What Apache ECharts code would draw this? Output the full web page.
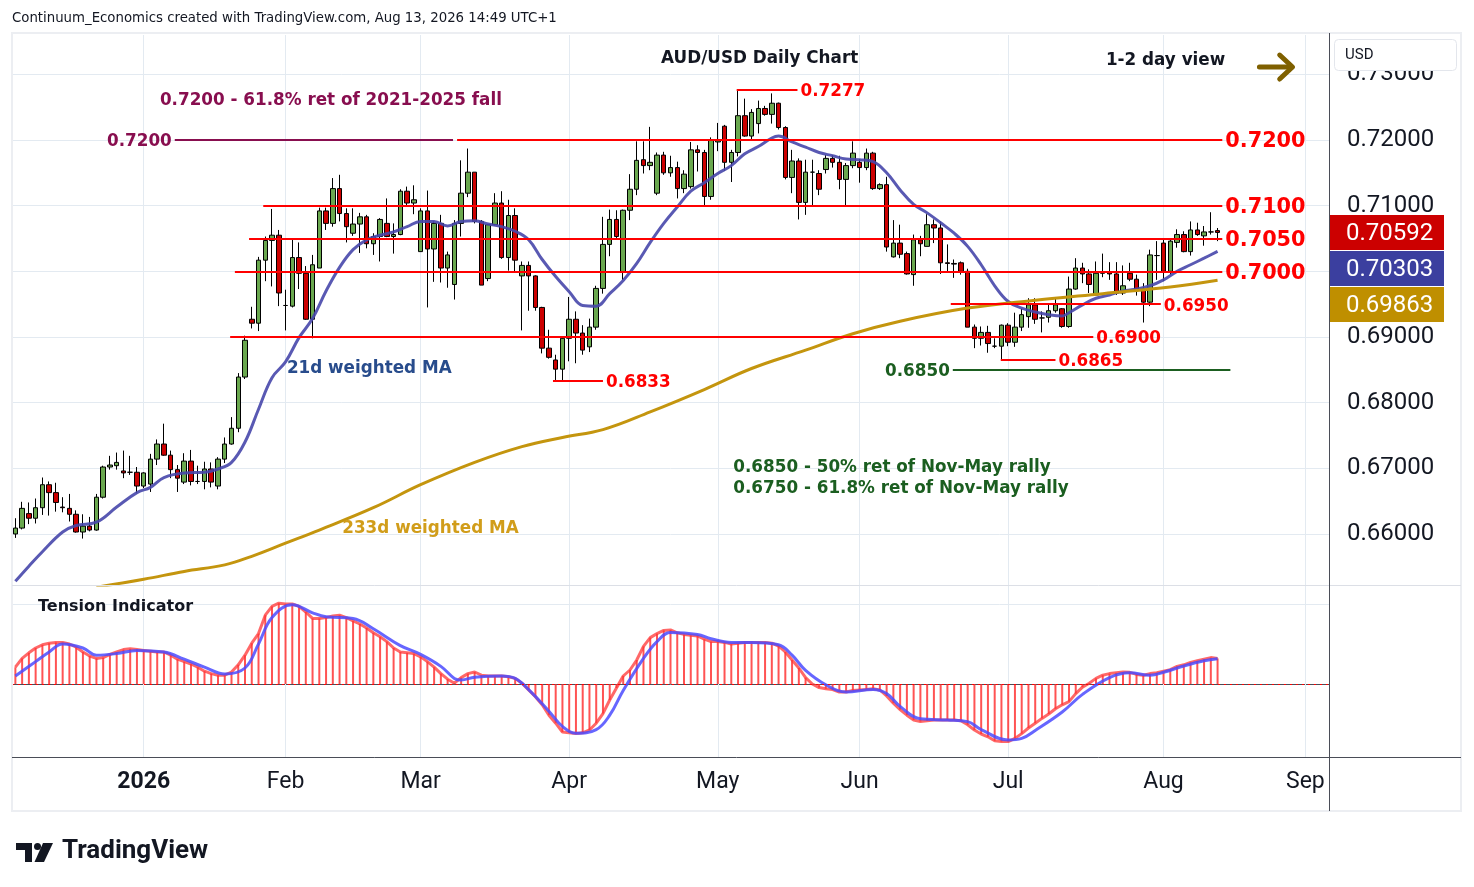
<!DOCTYPE html>
<html>
<head>
<meta charset="utf-8">
<title>AUD/USD Daily Chart</title>
<script src="https://cdn.jsdelivr.net/npm/echarts@6.0.0/dist/echarts.min.js"></script>
<style>
	html, body { margin: 0; padding: 0; background: #ffffff; }
	#chart { width: 1474px; height: 887px; }
</style>
</head>
<body>
<div id="chart"></div>
<script>
// ---- data -------------------------------------------------------------
// daily bars on weekdays from 4 Dec 2025, christmas and new year have no bar
var firstDay = "2025-12-04";
var holidays = ["2025-12-25", "2026-01-01"];
var barCount = 195; // the axis runs on into early September, past the last bar
var monthNames = ["Jan", "Feb", "Mar", "Apr", "May", "Jun", "Jul", "Aug", "Sep", "Oct", "Nov", "Dec"];
var priceTicks = [0.66, 0.67, 0.68, 0.69, 0.70, 0.71, 0.72, 0.73];

var opens = [
	0.6600,0.6609,0.6631,0.6624,0.6640,0.6675,0.6663,0.6641,0.6639,0.6630,
	0.6603,0.6612,0.6606,0.6656,0.6702,0.6704,0.6696,0.6694,0.6694,0.6673,
	0.6676,0.6714,0.6737,0.6720,0.6698,0.6679,0.6711,0.6680,0.6680,0.6699,
	0.6673,0.6714,0.6737,0.6761,0.6839,0.6927,0.6921,0.7017,0.7047,0.7055,
	0.6948,0.6947,0.7021,0.6997,0.6927,0.7005,0.7092,0.7073,0.7126,0.7088,
	0.7058,0.7072,0.7083,0.7042,0.7053,0.7073,0.7053,0.7056,0.7122,0.7104,
	0.7030,0.7092,0.7034,0.7073,0.7005,0.6980,0.7073,0.7119,0.7151,0.7076,
	0.6989,0.7071,0.7104,0.7021,0.7085,0.6993,0.7009,0.6993,0.6945,0.6883,
	0.6865,0.6851,0.6898,0.6927,0.6906,0.6885,0.6915,0.6974,0.7041,0.7079,
	0.6999,0.7093,0.7125,0.7170,0.7161,0.7119,0.7177,0.7150,0.7158,0.7126,
	0.7129,0.7185,0.7181,0.7114,0.7197,0.7221,0.7166,0.7181,0.7237,0.7206,
	0.7225,0.7248,0.7239,0.7256,0.7219,0.7143,0.7168,0.7105,0.7151,0.7149,
	0.7155,0.7172,0.7166,0.7140,0.7161,0.7166,0.7158,0.7180,0.7126,0.7132,
	0.7022,0.7043,0.7027,0.6995,0.7048,0.7038,0.7071,0.7066,0.7013,0.7012,
	0.7013,0.7000,0.6915,0.6898,0.6907,0.6886,0.6886,0.6918,0.6892,0.6915,
	0.6931,0.6949,0.6929,0.6930,0.6940,0.6943,0.6916,0.6973,0.7005,0.6996,
	0.6964,0.6997,0.6998,0.6996,0.6967,0.6997,0.6988,0.6973,0.6953,0.7024,
	0.7043,0.7000,0.7044,0.7056,0.7030,0.7063,0.7054,0.7060,0.7062
];
var highs = [
	0.6624,0.6649,0.6648,0.6654,0.6686,0.6680,0.6678,0.6656,0.6661,0.6636,
	0.6630,0.6626,0.6661,0.6704,0.6719,0.6724,0.6727,0.6719,0.6702,0.6694,
	0.6722,0.6744,0.6768,0.6727,0.6705,0.6723,0.6728,0.6704,0.6710,0.6709,
	0.6717,0.6747,0.6778,0.6845,0.6902,0.6946,0.7022,0.7053,0.7095,0.7063,
	0.6972,0.7049,0.7044,0.7008,0.7025,0.7097,0.7097,0.7142,0.7147,0.7096,
	0.7096,0.7089,0.7086,0.7058,0.7081,0.7111,0.7073,0.7125,0.7129,0.7131,
	0.7096,0.7123,0.7076,0.7086,0.7030,0.7078,0.7169,0.7187,0.7151,0.7078,
	0.7072,0.7119,0.7122,0.7109,0.7096,0.7015,0.7015,0.6994,0.6946,0.6911,
	0.6873,0.6900,0.6961,0.6939,0.6918,0.6928,0.6978,0.7083,0.7094,0.7093,
	0.7094,0.7148,0.7198,0.7198,0.7220,0.7181,0.7182,0.7176,0.7167,0.7154,
	0.7197,0.7192,0.7185,0.7204,0.7226,0.7223,0.7185,0.7277,0.7263,0.7247,
	0.7260,0.7252,0.7271,0.7257,0.7221,0.7185,0.7172,0.7170,0.7170,0.7154,
	0.7177,0.7177,0.7176,0.7165,0.7198,0.7171,0.7187,0.7182,0.7134,0.7144,
	0.7078,0.7071,0.7030,0.7056,0.7054,0.7087,0.7079,0.7076,0.7041,0.7018,
	0.7015,0.7004,0.6919,0.6916,0.6917,0.6898,0.6919,0.6921,0.6937,0.6943,
	0.6959,0.6959,0.6939,0.6949,0.6959,0.6944,0.6992,0.7020,0.7013,0.7003,
	0.7015,0.7027,0.7014,0.7014,0.7009,0.7013,0.6995,0.6982,0.7033,0.7046,
	0.7048,0.7048,0.7064,0.7061,0.7076,0.7074,0.7069,0.7090,0.7066
];
var lows = [
	0.6594,0.6607,0.6615,0.6616,0.6629,0.6628,0.6634,0.6633,0.6619,0.6602,
	0.6593,0.6604,0.6605,0.6654,0.6698,0.6698,0.6685,0.6690,0.6662,0.6670,
	0.6664,0.6705,0.6719,0.6685,0.6664,0.6676,0.6674,0.6676,0.6668,0.6671,
	0.6668,0.6708,0.6736,0.6755,0.6836,0.6913,0.6909,0.6985,0.6977,0.6947,
	0.6910,0.6945,0.6973,0.6926,0.6898,0.7005,0.7063,0.7068,0.7076,0.7044,
	0.7054,0.7028,0.7035,0.7025,0.7015,0.7052,0.7027,0.7055,0.7100,0.7087,
	0.7030,0.6945,0.6984,0.6983,0.6975,0.6957,0.7053,0.7113,0.7073,0.6979,
	0.6985,0.7070,0.7019,0.7001,0.6999,0.6910,0.6940,0.6940,0.6875,0.6867,
	0.6833,0.6833,0.6863,0.6860,0.6873,0.6877,0.6911,0.6966,0.7023,0.7050,
	0.6987,0.7078,0.7116,0.7149,0.7154,0.7116,0.7147,0.7144,0.7111,0.7119,
	0.7126,0.7152,0.7101,0.7109,0.7183,0.7153,0.7136,0.7175,0.7205,0.7201,
	0.7210,0.7237,0.7225,0.7216,0.7140,0.7119,0.7079,0.7086,0.7101,0.7116,
	0.7149,0.7158,0.7125,0.7101,0.7157,0.7135,0.7154,0.7124,0.7124,0.7030,
	0.7021,0.7020,0.6995,0.6978,0.7023,0.7038,0.7043,0.6996,0.7000,0.6990,
	0.6995,0.6915,0.6883,0.6887,0.6876,0.6883,0.6865,0.6886,0.6885,0.6909,
	0.6914,0.6920,0.6907,0.6922,0.6937,0.6914,0.6914,0.6972,0.6982,0.6967,
	0.6964,0.6991,0.6987,0.6964,0.6964,0.6985,0.6963,0.6922,0.6947,0.6987,
	0.6985,0.6995,0.7036,0.7029,0.7024,0.7054,0.7039,0.7056,0.7046
];
var closes = [
	0.6609,0.6639,0.6624,0.6640,0.6675,0.6663,0.6648,0.6640,0.6630,0.6603,
	0.6612,0.6606,0.6656,0.6702,0.6705,0.6709,0.6693,0.6694,0.6673,0.6693,
	0.6714,0.6737,0.6720,0.6698,0.6685,0.6711,0.6680,0.6680,0.6699,0.6679,
	0.6714,0.6737,0.6761,0.6839,0.6895,0.6921,0.7017,0.7047,0.7055,0.6967,
	0.6948,0.7021,0.6997,0.6927,0.7010,0.7092,0.7073,0.7126,0.7088,0.7068,
	0.7072,0.7083,0.7042,0.7053,0.7079,0.7053,0.7056,0.7122,0.7104,0.7109,
	0.7092,0.7034,0.7073,0.7005,0.7025,0.7073,0.7119,0.7151,0.7076,0.6979,
	0.7071,0.7104,0.7021,0.7085,0.7017,0.7009,0.6993,0.6945,0.6883,0.6869,
	0.6851,0.6898,0.6927,0.6906,0.6880,0.6915,0.6974,0.7041,0.7079,0.7053,
	0.7093,0.7125,0.7169,0.7161,0.7166,0.7177,0.7150,0.7158,0.7126,0.7148,
	0.7185,0.7181,0.7114,0.7200,0.7199,0.7166,0.7181,0.7237,0.7206,0.7242,
	0.7248,0.7239,0.7256,0.7219,0.7143,0.7168,0.7105,0.7151,0.7151,0.7125,
	0.7172,0.7166,0.7140,0.7161,0.7180,0.7158,0.7180,0.7126,0.7132,0.7037,
	0.7043,0.7026,0.6996,0.7048,0.7042,0.7071,0.7066,0.7013,0.7012,0.7011,
	0.7000,0.6915,0.6898,0.6907,0.6890,0.6886,0.6918,0.6892,0.6915,0.6934,
	0.6949,0.6927,0.6929,0.6940,0.6949,0.6916,0.6973,0.7005,0.6996,0.6980,
	0.6997,0.6998,0.6996,0.6967,0.6978,0.6988,0.6972,0.6953,0.7025,0.7024,
	0.7000,0.7046,0.7056,0.7030,0.7063,0.7056,0.7060,0.7060,0.70592
];

// moving averages as [bar, value]
var wma21 = [
	[0,0.6528],[2,0.6551],[4,0.6573],[7,0.6603],[9,0.6613],[12,0.6618],[15,0.6641],[18,0.6663],
	[20,0.6671],[22,0.6686],[25,0.6693],[28,0.6694],[30,0.6699],[32,0.6709],[34,0.6740],[36,0.6790],
	[38,0.6838],[40,0.6862],[42,0.6899],[44,0.6928],[46,0.6970],[48,0.7006],[50,0.7033],[52,0.7048],
	[54,0.7055],[56,0.7060],[58,0.7068],[60,0.7076],[62,0.7076],[64,0.7069],[66,0.7076],[68,0.7077],
	[70,0.7072],[72,0.7068],[74,0.7061],[76,0.7048],[78,0.7018],[80,0.6992],[82,0.6969],[84,0.6948],
	[86,0.6947],[88,0.6966],[90,0.6986],[92,0.7012],[94,0.7044],[96,0.7073],[98,0.7098],[100,0.7122],
	[102,0.7135],[104,0.7149],[106,0.7161],[108,0.7179],[110,0.7190],[112,0.7203],[113,0.7206],[115,0.7197],
	[117,0.7189],[119,0.7181],[121,0.7176],[123,0.7171],[125,0.7170],[127,0.7167],[129,0.7150],[131,0.7124],
	[133,0.7102],[135,0.7089],[137,0.7074],[139,0.7058],[141,0.7038],[143,0.7010],[145,0.6978],[147,0.6954],
	[149,0.6944],[151,0.6938],[153,0.6934],[155,0.6932],[156,0.6937],[158,0.6949],[160,0.6959],[162,0.6964],
	[164,0.6970],[166,0.6973],[168,0.6978],[170,0.6987],[172,0.7000],[174,0.7010],[176,0.7020],[178,0.70303]
];
var wma233 = [
	[12,0.6519],[19,0.6531],[25,0.6543],[31,0.6553],[35,0.6566],[40,0.6586],[45,0.6606],[53,0.6640],
	[60,0.6675],[68,0.6709],[75,0.6733],[81,0.6747],[87,0.6759],[94,0.6786],[102,0.6820],[109,0.6852],
	[117,0.6880],[124,0.6905],[131,0.6924],[141,0.6944],[151,0.6956],[161,0.6966],[171,0.6976],[178,0.69863]
];

// tension indicator, one value per bar, and its signal line as [bar, value]
var tension = [
	0.21,0.32,0.39,0.45,0.49,0.51,0.52,0.52,0.50,0.46,
	0.40,0.35,0.32,0.33,0.37,0.40,0.43,0.44,0.43,0.42,
	0.41,0.40,0.40,0.36,0.31,0.28,0.25,0.21,0.16,0.13,
	0.11,0.11,0.15,0.24,0.36,0.51,0.63,0.86,0.97,1.01,
	1.00,1.00,0.97,0.90,0.82,0.82,0.83,0.85,0.86,0.83,
	0.79,0.75,0.70,0.64,0.59,0.53,0.45,0.40,0.39,0.38,
	0.34,0.28,0.21,0.13,0.06,0.01,0.08,0.13,0.15,0.11,
	0.10,0.10,0.10,0.09,0.07,0.01,-0.075,-0.16,-0.26,-0.39,
	-0.49,-0.60,-0.61,-0.62,-0.61,-0.575,-0.49,-0.37,-0.20,-0.05,
	0.10,0.175,0.30,0.47,0.58,0.63,0.67,0.675,0.64,0.62,
	0.61,0.60,0.56,0.53,0.53,0.52,0.50,0.51,0.52,0.52,
	0.52,0.52,0.51,0.475,0.40,0.30,0.20,0.08,0.00,-0.045,
	-0.06,-0.07,-0.10,-0.10,-0.08,-0.075,-0.07,-0.06,-0.075,-0.15,
	-0.24,-0.32,-0.39,-0.45,-0.47,-0.46,-0.45,-0.45,-0.45,-0.45,
	-0.46,-0.51,-0.575,-0.625,-0.66,-0.71,-0.72,-0.72,-0.68,-0.62,
	-0.55,-0.49,-0.43,-0.375,-0.31,-0.26,-0.22,-0.12,-0.04,0.01,
	0.07,0.11,0.13,0.14,0.15,0.146,0.12,0.11,0.13,0.14,
	0.16,0.18,0.22,0.24,0.27,0.29,0.31,0.33,0.32
];
var tensionSignal = [
	[0,0.10],[3,0.28],[5,0.40],[7,0.50],[10,0.45],[12,0.36],[15,0.38],[18,0.42],[22,0.40],[25,0.31],
	[28,0.21],[31,0.125],[34,0.20],[36,0.50],[38,0.83],[41,0.99],[44,0.89],[46,0.84],[50,0.82],[53,0.69],
	[57,0.48],[60,0.37],[63,0.22],[65,0.07],[66,0.05],[68,0.085],[72,0.10],[74,0.07],[76,-0.07],[79,-0.34],
	[81,-0.53],[83,-0.615],[86,-0.57],[88,-0.39],[90,-0.08],[93,0.32],[95,0.53],[97,0.645],[101,0.62],[103,0.565],
	[106,0.52],[109,0.52],[113,0.49],[115,0.36],[117,0.17],[120,-0.01],[123,-0.10],[127,-0.07],[129,-0.12],[131,-0.28],
	[134,-0.435],[138,-0.45],[141,-0.47],[143,-0.57],[147,-0.70],[149,-0.68],[151,-0.58],[155,-0.35],[158,-0.13],[162,0.08],
	[165,0.14],[168,0.11],[170,0.146],[173,0.225],[176,0.29],[178,0.315]
];

// ---- drawings on the chart (bar position, price) ------------------------
var RED = "#ff0000", PURPLE = "#880e4f", GREEN = "#1b5e20", NAVY = "#284c8c", GOLD = "#d19d1a";
var levelLines = [
	{price: 0.7200, from: 23.6, to: 64.8, text: "0.7200", side: "start", color: PURPLE, big: false},
	{price: 0.7200, from: 65.4, to: 178.7, text: "0.7200", side: "end", color: RED, big: true},
	{price: 0.7100, from: 36.7, to: 178.7, text: "0.7100", side: "end", color: RED, big: true},
	{price: 0.7050, from: 34.6, to: 178.7, text: "0.7050", side: "end", color: RED, big: true},
	{price: 0.7000, from: 32.5, to: 178.7, text: "0.7000", side: "end", color: RED, big: true},
	{price: 0.6950, from: 138.5, to: 169.6, text: "0.6950", side: "end", color: RED, big: false},
	{price: 0.6900, from: 31.8, to: 159.6, text: "0.6900", side: "end", color: RED, big: false},
	{price: 0.6865, from: 145.9, to: 154.0, text: "0.6865", side: "end", color: RED, big: false},
	{price: 0.6833, from: 79.6, to: 87.0, text: "0.6833", side: "end", color: RED, big: false},
	{price: 0.7277, from: 106.8, to: 115.8, text: "0.7277", side: "end", color: RED, big: false},
	{price: 0.6850, from: 138.8, to: 179.9, text: "0.6850", side: "start", color: GREEN, big: false}
];
var notes = [
	{text: "AUD/USD Daily Chart", at: [110.2, 0.73264], color: "#131722", center: true},
	{text: "1-2 day view", at: [170.3, 0.73233], color: "#131722", center: true},
	{text: "0.7200 - 61.8% ret of 2021-2025 fall", at: [21.4, 0.72624], color: PURPLE},
	{text: "21d weighted MA", at: [40.2, 0.68543], color: NAVY},
	{text: "233d weighted MA", at: [48.4, 0.66106], color: GOLD},
	{text: "0.6850 - 50% ret of Nov-May rally", at: [106.3, 0.67035], color: GREEN},
	{text: "0.6750 - 61.8% ret of Nov-May rally", at: [106.3, 0.66715], color: GREEN}
];
var arrowShaft = [[184.2, 0.73112], [189.0, 0.73112]];
var arrowHead = [[187.2, 0.73294], [189.1, 0.73112], [187.2, 0.72929]];

// ---- build ------------------------------------------------------------
var dates = [];
(function() {
	var d = new Date(firstDay + "T12:00:00Z");
	while (dates.length < barCount) {
		var iso = d.toISOString().slice(0, 10);
		var day = d.getUTCDay();
		if (day != 0 && day != 6 && holidays.indexOf(iso) < 0) {
			dates.push(iso);
		}
		d.setUTCDate(d.getUTCDate() + 1);
	}
})();
var monthStarts = [];
dates.forEach(function(date, i) {
	if (i > 0 && date.slice(5, 7) != dates[i - 1].slice(5, 7)) {
		monthStarts.push(i);
	}
});

var candles = opens.map(function(open, i) {
	return [open, closes[i], lows[i], highs[i]];
});

var FONT = '"DejaVu Sans", sans-serif';
var AXIS_FONT = 'Roboto, sans-serif';
var GRID_COLOR = "#e3eaf1";
// DejaVu sits a little high when centred, nudge texts down to the line
var TEXT_NUDGE = [0, 2];

var gridTop = 35, gridBottom = 585, paneTop = 586, paneBottom = 757;
var plotLeft = 12, plotRight = 1329;

var lineData = levelLines.map(function(level) {
	return {
		coords: [[level.from, level.price], [level.to, level.price]],
		// lines series fade to half opacity unless told otherwise
		lineStyle: {color: level.color, width: 2, opacity: 1},
		label: {
			show: true,
			position: level.side,
			distance: 3,
			offset: TEXT_NUDGE,
			formatter: level.text,
			color: level.color,
			opacity: 1,
			fontFamily: FONT,
			fontWeight: "bold",
			fontSize: level.big ? 20.8 : 16.8
		}
	};
});

var noteData = notes.map(function(note) {
	return {
		value: note.at,
		label: {
			show: true,
			position: note.center ? "inside" : "right",
			distance: 0,
			offset: TEXT_NUDGE,
			formatter: note.text,
			color: note.color,
			opacity: 1,
			fontFamily: FONT,
			fontWeight: "bold",
			fontSize: 16.8
		}
	};
});

var chart = echarts.init(document.getElementById("chart"));

var option = {
	animation: false,
	backgroundColor: "#ffffff",
	grid: [
		{left: plotLeft, top: gridTop, width: plotRight - plotLeft, height: gridBottom - gridTop},
		{left: plotLeft, top: paneTop, width: plotRight - plotLeft, height: paneBottom - paneTop}
	],
	xAxis: [
		{
			type: "category", gridIndex: 0, data: dates, boundaryGap: true,
			axisLine: {show: false}, axisTick: {show: false}, axisLabel: {show: false}, splitLine: {show: false}
		},
		{
			type: "category", gridIndex: 1, data: dates, boundaryGap: true,
			axisLine: {show: true, lineStyle: {color: "#4a4d57", width: 1}},
			axisTick: {show: false},
			splitLine: {show: false},
			axisLabel: {
				interval: function(index) {
					return monthStarts.indexOf(index) >= 0;
				},
				formatter: function(value) {
					var month = parseInt(value.slice(5, 7), 10);
					if (month == 1) {
						return "{year|" + value.slice(0, 4) + "}";
					}
					return monthNames[month - 1];
				},
				margin: 14,
				color: "#131722",
				fontFamily: AXIS_FONT,
				fontSize: 23,
				hideOverlap: false,
				rich: {
					year: {fontFamily: AXIS_FONT, fontSize: 23, fontWeight: "bold", color: "#131722"}
				}
			}
		},
		// plain bar-number axes for the drawings, lined up with the category bands
		{type: "value", gridIndex: 0, min: -0.5, max: barCount - 0.5, show: false, splitLine: {show: false}},
		{type: "value", gridIndex: 1, min: -0.5, max: barCount - 0.5, show: false, splitLine: {show: false}}
	],
	yAxis: [
		{
			type: "value", gridIndex: 0, position: "right", min: 0.65223, max: 0.73599, scale: true,
			axisLine: {show: false}, axisTick: {show: false, customValues: priceTicks}, splitLine: {show: false},
			axisLabel: {
				customValues: priceTicks,
				formatter: function(v) {
					return v.toFixed(5);
				},
				margin: 18,
				padding: [4, 0, 0, 0],
				color: "#131722",
				fontFamily: AXIS_FONT,
				fontSize: 24
			}
		},
		{
			type: "value", gridIndex: 1, position: "right", min: -0.9125, max: 1.225,
			axisLine: {show: false}, axisTick: {show: false}, axisLabel: {show: false}, splitLine: {show: false}
		}
	],
	series: [
		{
			// grid lines of the price pane
			type: "line", xAxisIndex: 2, yAxisIndex: 0, data: [], z: 1, silent: true,
			markLine: {
				silent: true, symbol: ["none", "none"], label: {show: false}, z: 1,
				lineStyle: {color: GRID_COLOR, width: 1, type: "solid"},
				data: monthStarts.map(function(i) { return {xAxis: i}; }).concat(
					priceTicks.map(function(p) { return {yAxis: p}; }))
			}
		},
		{
			// grid lines of the indicator pane
			type: "line", xAxisIndex: 3, yAxisIndex: 1, data: [], z: 1, silent: true,
			markLine: {
				silent: true, symbol: ["none", "none"], label: {show: false}, z: 1,
				lineStyle: {color: GRID_COLOR, width: 1, type: "solid"},
				data: monthStarts.map(function(i) { return {xAxis: i}; }).concat([{yAxis: 1}])
			}
		},
		{
			type: "candlestick", name: "AUD/USD", xAxisIndex: 0, yAxisIndex: 0,
			data: candles, barWidth: 5, z: 2,
			itemStyle: {
				color: "#6aa84f", color0: "#cc0000",
				borderColor: "#000000", borderColor0: "#000000", borderWidth: 1
			}
		},
		{
			type: "line", name: "21d weighted MA", xAxisIndex: 2, yAxisIndex: 0, data: wma21,
			smooth: 0.4, showSymbol: false, symbol: "none", z: 3,
			lineStyle: {color: "#4747ab", width: 3, opacity: 0.9}
		},
		{
			type: "line", name: "233d weighted MA", xAxisIndex: 2, yAxisIndex: 0, data: wma233,
			smooth: 0.4, showSymbol: false, symbol: "none", z: 3,
			lineStyle: {color: "#c4950e", width: 3}
		},
		{
			type: "lines", coordinateSystem: "cartesian2d", xAxisIndex: 2, yAxisIndex: 0,
			data: lineData, z: 4, silent: true,
			lineStyle: {opacity: 1}
		},
		{
			// scatter items default to 0.8 opacity, which would also fade the texts
			type: "scatter", xAxisIndex: 2, yAxisIndex: 0, data: noteData,
			symbolSize: 0, z: 5, silent: true,
			itemStyle: {opacity: 1}
		},
		{
			type: "lines", coordinateSystem: "cartesian2d", xAxisIndex: 2, yAxisIndex: 0, polyline: true,
			data: [{coords: arrowShaft}, {coords: arrowHead}], z: 5, silent: true,
			lineStyle: {color: "#7f6000", width: 5, cap: "round", join: "round", opacity: 1}
		},
		{
			type: "bar", name: "Tension", xAxisIndex: 1, yAxisIndex: 1, data: tension,
			barWidth: 2, z: 2, silent: true,
			itemStyle: {color: "rgba(255,40,40,0.8)"},
			markLine: {
				silent: true, symbol: ["none", "none"], label: {show: false},
				lineStyle: {color: "#ff0000", width: 1, type: [2, 4]},
				data: [{yAxis: 0}]
			}
		},
		{
			type: "line", xAxisIndex: 1, yAxisIndex: 1, data: tension,
			showSymbol: false, symbol: "none", z: 3, silent: true,
			lineStyle: {color: "#ff3535", width: 3, opacity: 0.75}
		},
		{
			type: "line", xAxisIndex: 3, yAxisIndex: 1, data: tensionSignal,
			smooth: 0.4, showSymbol: false, symbol: "none", z: 4, silent: true,
			lineStyle: {color: "#4b4bff", width: 3, opacity: 0.85}
		}
	]
};
chart.setOption(option);

// frame, pane borders and labels that sit outside the plot
var graphics = [
	{type: "rect", z: 100, shape: {x: 12, y: 33, width: 1449, height: 778}, style: {fill: null, stroke: "#eceef2", lineWidth: 2}},
	{type: "line", z: 100, shape: {x1: 12, y1: paneTop - 0.5, x2: 1461, y2: paneTop - 0.5}, style: {stroke: "#dcdfe6", lineWidth: 1}},
	{type: "line", z: 100, shape: {x1: 1461, y1: paneBottom + 0.5, x2: 12, y2: paneBottom + 0.5}, style: {stroke: "#4a4d57", lineWidth: 1}},
	{type: "line", z: 100, shape: {x1: plotRight + 0.5, y1: 33, x2: plotRight + 0.5, y2: 811}, style: {stroke: "#4a4d57", lineWidth: 1}},
	{type: "text", z: 100, style: {
		text: "Continuum_Economics created with TradingView.com, Aug 13, 2026 14:49 UTC+1",
		x: 12, y: 19, verticalAlign: "middle", fill: "#131722", fontFamily: FONT, fontSize: 13.3
	}},
	{type: "rect", z: 100, shape: {x: 1334.5, y: 39.5, width: 122, height: 31, r: 4}, style: {fill: "#ffffff", stroke: "#e3e6ec", lineWidth: 1}},
	{type: "text", z: 101, style: {text: "USD", x: 1345, y: 55, verticalAlign: "middle", fill: "#131722", fontFamily: AXIS_FONT, fontSize: 15}},
	{type: "text", z: 100, style: {
		text: "Tension Indicator", x: 38, y: 607, verticalAlign: "middle",
		fill: "#131722", fontFamily: FONT, fontSize: 16, fontWeight: "bold"
	}},
	// TradingView logo
	{type: "polygon", z: 100, shape: {points: [[16, 843], [32, 843], [32, 862], [25, 862], [25, 850], [16, 850]]}, style: {fill: "#131722"}},
	{type: "circle", z: 100, shape: {cx: 37.5, cy: 846.5, r: 3.5}, style: {fill: "#131722"}},
	{type: "polygon", z: 100, shape: {points: [[43, 843], [53, 843], [44, 862], [34.5, 862]]}, style: {fill: "#131722"}},
	{type: "text", z: 100, style: {
		text: "TradingView", x: 62, y: 851, verticalAlign: "middle",
		fill: "#131722", fontFamily: AXIS_FONT, fontSize: 26, fontWeight: "bold"
	}}
];

// price tags on the right axis, pushed down where they would overlap
var tags = [
	{value: closes[closes.length - 1], color: "#cc0000"},
	{value: wma21[wma21.length - 1][1], color: "#3b3f9f"},
	{value: wma233[wma233.length - 1][1], color: "#bf8f00"}
];
var tagHeight = 35;
var lastBottom = -Infinity;
tags.forEach(function(tag) {
	var y = chart.convertToPixel({yAxisIndex: 0}, tag.value);
	var top = Math.max(y - tagHeight / 2, lastBottom + 1);
	lastBottom = top + tagHeight;
	graphics.push({type: "rect", z: 100, shape: {x: plotRight + 1, y: top, width: 114, height: tagHeight}, style: {fill: tag.color}});
	graphics.push({type: "text", z: 101, style: {
		text: tag.value.toFixed(5), x: 1346, y: top + tagHeight / 2 + 1.5, verticalAlign: "middle",
		fill: "#ffffff", fontFamily: AXIS_FONT, fontSize: 24
	}});
});

chart.setOption({graphic: {elements: graphics}});
</script>
</body>
</html>
